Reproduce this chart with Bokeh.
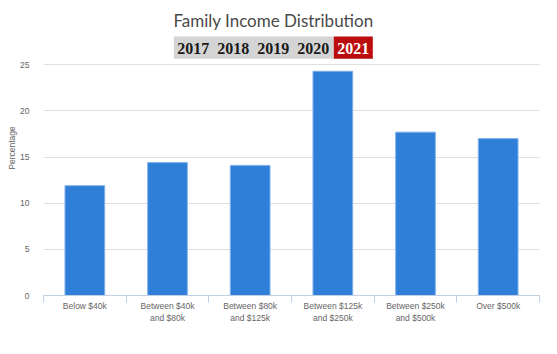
from bokeh.plotting import figure
from bokeh.models import Range1d, LinearAxis, FixedTicker
from bokeh.core.properties import value
from bokeh.embed import file_html
from bokeh.resources import INLINE

# ---- data ----
categories = ["Below $40k", "Between $40k and $80k", "Between $80k and $125k",
              "Between $125k and $250k", "Between $250k and $500k", "Over $500k"]
tick_labels = ["Below $40k", "Between $40k\nand $80k", "Between $80k\nand $125k",
               "Between $125k\nand $250k", "Between $250k\nand $500k", "Over $500k"]
percentages = [11.9, 14.4, 14.1, 24.3, 17.7, 17.0]
y_ticks = [0, 5, 10, 15, 20, 25]
years = ["2017", "2018", "2019", "2020", "2021"]
selected_year = "2021"
title_text = "Family Income Distribution"
y_title = "Percentage"

# ---- layout constants (pixels) ----
W, H = 557, 354
LEFT, RIGHT, BOTTOM = 43, 18, 59
TOP_25 = 64.3            # pixel row of the 25 gridline
frame_h = H - BOTTOM     # frame starts at top of canvas
y_max = max(y_ticks) * frame_h / (frame_h - TOP_25)
n = len(categories)
positions = list(range(n))

p = figure(width=W, height=H, output_backend="svg", toolbar_location=None,
           x_range=Range1d(-0.5, n - 0.5), y_range=Range1d(0, y_max),
           x_axis_location=None, min_border_left=LEFT, min_border_right=RIGHT,
           min_border_top=0, min_border_bottom=BOTTOM)
p.outline_line_color = None
p.background_fill_color = "white"
p.border_fill_color = "white"

# pixel-space helper ranges for the header
p.extra_x_ranges = {"px": Range1d(LEFT, W - RIGHT)}
p.extra_y_ranges = {"py": Range1d(frame_h, 0)}

# y axis
yt = FixedTicker(ticks=y_ticks)
p.yaxis.ticker = yt
p.ygrid.ticker = yt
p.ygrid.grid_line_color = "#e0e0e0"
p.ygrid.grid_line_width = 1
p.xgrid.grid_line_color = None
p.yaxis.axis_line_color = None
p.yaxis.major_tick_line_color = None
p.yaxis.minor_tick_line_color = None
p.yaxis.major_label_text_font = "Liberation Sans"
p.yaxis.major_label_text_font_size = "8.5px"
p.yaxis.major_label_text_color = "#666666"
p.yaxis.major_label_standoff = 8
p.yaxis.axis_label = y_title
p.yaxis.axis_label_text_font = "Liberation Sans"
p.yaxis.axis_label_text_font_size = "8.5px"
p.yaxis.axis_label_text_font_style = "normal"
p.yaxis.axis_label_text_color = "#666666"
p.yaxis.axis_label_standoff = 0

# x axis with ticks between categories
xax = LinearAxis(ticker=FixedTicker(ticks=positions,
                                    minor_ticks=[i - 0.5 for i in range(n + 1)]))
xax.major_label_overrides = {i: lab for i, lab in zip(positions, tick_labels)}
xax.axis_line_color = "#c0d0e0"
xax.major_tick_line_color = None
xax.major_tick_out = 0
xax.major_tick_in = 0
xax.minor_tick_line_color = "#c0d0e0"
xax.minor_tick_out = 7
xax.minor_tick_in = 0
xax.major_label_text_font = "Liberation Sans"
xax.major_label_text_font_size = "8.5px"
xax.major_label_text_color = "#666666"
xax.major_label_standoff = -2
p.add_layout(xax, "below")

# bars
p.vbar(x=positions, top=percentages, width=0.48, fill_color="#2f7ed8",
       line_color="#7fb0ea", line_width=1)

# header: title
p.text(x=[273], y=[20], text=[title_text],
       x_range_name="px", y_range_name="py",
       text_font=value("Lato"), text_font_size="17px", text_color="#4a4a4a",
       text_align="center", text_baseline="middle")

# header: year selector
btn_left, btn_w_each = 173.3, 40.0
sel = years.index(selected_year)
p.quad(left=[btn_left], right=[btn_left + btn_w_each * sel], top=[36], bottom=[58.3],
       x_range_name="px", y_range_name="py", fill_color="#d4d4d4", line_color=None)
p.quad(left=[btn_left + btn_w_each * sel], right=[btn_left + btn_w_each * (sel + 1) - 1],
       top=[36], bottom=[58.3],
       x_range_name="px", y_range_name="py", fill_color="#bb0d0d", line_color=None)
p.text(x=[btn_left + btn_w_each * (i + 0.5) - 0.5 for i in range(len(years))],
       y=[48] * len(years), text=years,
       x_range_name="px", y_range_name="py",
       text_font=value("Liberation Serif"), text_font_size="16px", text_font_style="bold",
       text_color=["#ffffff" if y == selected_year else "#1a1a1a" for y in years],
       text_align="center", text_baseline="middle")

open("out.html", "w").write(file_html(p, INLINE))
